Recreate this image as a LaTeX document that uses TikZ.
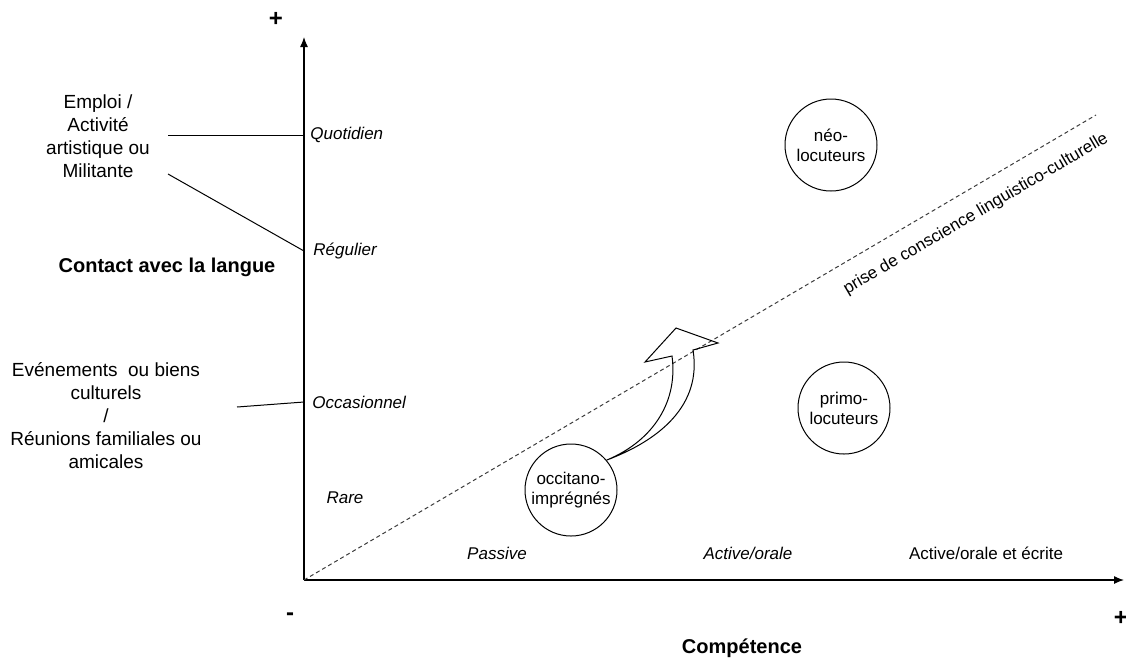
\documentclass[tikz,border=0pt]{standalone}
\usepackage{fontspec}
\setmainfont{Liberation Sans}
\usetikzlibrary{arrows.meta}
\usetikzlibrary{calc}
\tikzset{>={Latex[length=5pt,width=4pt]}}
\definecolor{dashgray}{RGB}{60,60,60}
\tikzstyle{axisline}=[draw=black,line width=0.6pt]
\tikzstyle{thinline}=[draw=black,line width=0.5pt]
\tikzstyle{levellabel}=[font=\fontsize{8.5}{10}\selectfont\itshape,inner sep=0pt]
\tikzstyle{grouplabel}=[circle,draw=black,line width=0.5pt,minimum size=46pt,inner sep=0pt,align=center,font=\fontsize{8.5}{10}\selectfont]
\tikzstyle{sidetext}=[align=center,font=\fontsize{9.5}{11.5}\selectfont,inner sep=0pt]
\tikzstyle{axistitle}=[font=\fontsize{10}{12}\selectfont\bfseries,inner sep=0pt]
\tikzstyle{signlabel}=[font=\fontsize{12}{12}\selectfont\bfseries,inner sep=0pt]

\begin{document}
\begin{tikzpicture}[x=0.5pt,y=-0.5pt]
    \useasboundingbox (0,0) rectangle (1126,661);
    \coordinate (O) at (304,580);
    \coordinate (ytop) at (304,37);
    \coordinate (xend) at (1124,580);
    \draw[axisline,->] (O) -- (ytop);
    \draw[axisline,->] (O) -- (xend);
    \node[signlabel] (yplus) at (276,19) {+};
    \node[signlabel] (xminus) at (290,617) {-};
    \node[signlabel] (xplus) at (1121,618) {+};
    \node[axistitle] (ytitle) at (167,267) {Contact avec la langue};
    \node[axistitle] (xtitle) at (742,648) {Compétence};

    \coordinate (quot) at (304,135);
    \coordinate (regu) at (304,251);
    \coordinate (occa) at (304,402);
    \node[levellabel,anchor=west] (quotidien) at (310,135) {Quotidien};
    \node[levellabel,anchor=west] (regulier) at (313,251) {Régulier};
    \node[levellabel,anchor=west] (occasionnel) at (312,402) {Occasionnel};
    \node[levellabel] (rare) at (345,498) {Rare};
    \node[levellabel] (passive) at (497,553) {Passive};
    \node[levellabel] (orale) at (748,553) {Active/orale};
    \node[levellabel,font=\fontsize{8.5}{10}\selectfont] (ecrite) at (986,553) {Active/orale et écrite};

    \node[sidetext] (emploi) at (98,136) {Emploi /\\Activité\\artistique ou\\Militante};
    \node[sidetext] (evenements) at (106,416) {Evénements\ \ ou biens\\culturels\\/\\Réunions familiales ou\\amicales};
    \coordinate (emp1) at (168,135);
    \coordinate (emp2) at (168,174);
    \coordinate (evt) at (237,407);
    \draw[thinline] (emp1) -- (quot);
    \draw[thinline] (emp2) -- (regu);
    \draw[thinline] (evt) -- (occa);

    \node[grouplabel] (neo) at (831,145) {néo-\\locuteurs};
    \node[grouplabel] (primo) at (844,408) {primo-\\locuteurs};
    \node[grouplabel] (occi) at (571,490) {occitano-\\imprégnés};

    \coordinate (dend) at (1096,115);
    \draw[dashgray,line width=0.5pt,dash pattern=on 2pt off 1.5pt] (O) -- (dend);
    \node[rotate=30.34,font=\fontsize{8.5}{10}\selectfont,inner sep=0pt] (prise) at (976,214) {prise de conscience linguistico-culturelle};

    \draw[thinline] (occi.40) .. controls (660,440) and (702,405) .. (693,350)
        -- (718,343) -- (676,328) -- (645,362) -- (672,356)
        .. controls (678,400) and (655,440) .. (occi.40) -- cycle;
\end{tikzpicture}
\end{document}
